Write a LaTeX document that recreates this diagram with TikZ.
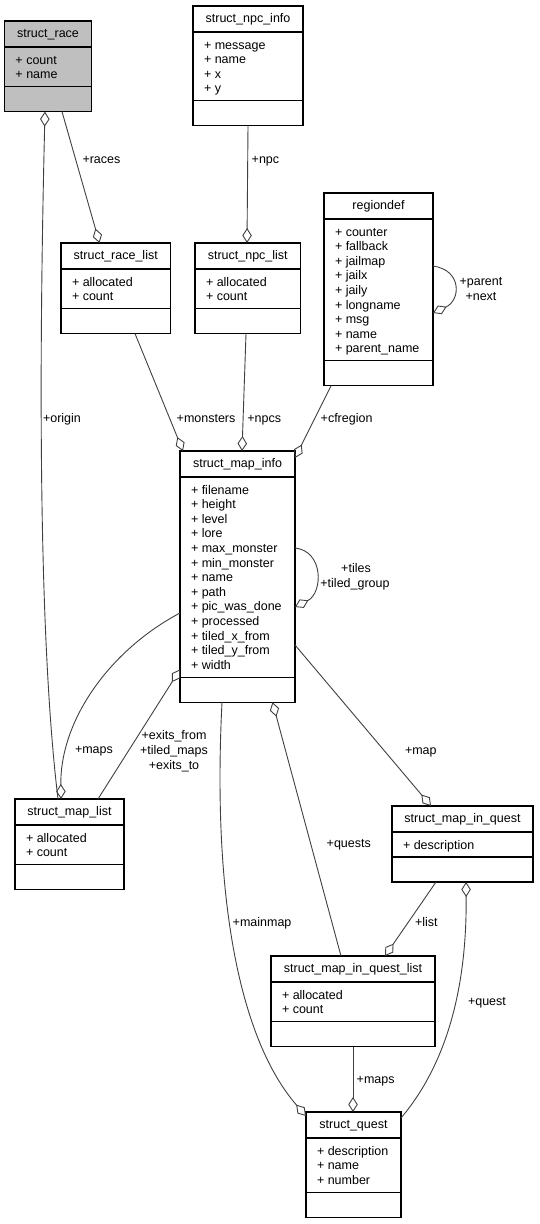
\documentclass[tikz,border=0pt]{standalone}
\usepackage{fontspec}
\setmainfont{Liberation Sans}
\usetikzlibrary{arrows.meta}
\definecolor{edgegray}{HTML}{404040}
\definecolor{racegray}{HTML}{BFBFBF}
\tikzset{
  every node/.style={font=\fontsize{12.5}{14.6}\selectfont, inner sep=0pt, outer sep=0pt},
  clsbox/.style={draw=black, line width=1.1pt},
  clssep/.style={draw=black, line width=1.1pt},
  attr/.style={anchor=base west},
  ttl/.style={anchor=base},
  lbl/.style={anchor=base west},
  lblc/.style={anchor=base},
  conn/.style={draw=edgegray, line width=0.9pt},
  agg/.style={-{Diamond[open, length=15pt, width=9.5pt]}},
  aggstart/.style={{Diamond[open, length=15pt, width=9.5pt]}-},
}
\newcommand\UmlBox[8][white]{%
  \pgfmathsetmacro\UmlH{61.4+14.6*#6}%
  \node[clsbox, fill=#1, minimum width=#5pt, minimum height=\UmlH pt, anchor=north west] (#2) at (#3,#4) {};
  \draw[clssep] ([yshift=-26pt]#2.north west) -- ([yshift=-26pt]#2.north east);
  \draw[clssep] ([yshift=25pt]#2.south west) -- ([yshift=25pt]#2.south east);
  \node[ttl] (#2-title) at ([yshift=-16.5pt]#2.north) {#7};
  \foreach \a [count=\i] in {#8} {\node[attr] (#2-a\i) at ([xshift=11pt,yshift={-43pt-(\i-1)*14.6pt}]#2.north west) {+ \a};}
}
\begin{document}
\begin{tikzpicture}[x=1pt, y=-1pt]
\useasboundingbox (0,0) rectangle (539,1224);

\UmlBox[racegray]{race}{4.5}{21}{87}{2}{struct\_race}{count,name}
\UmlBox{npcinfo}{193}{6}{110}{4}{struct\_npc\_info}{message,name,x,y}
\UmlBox{regiondef}{324}{193}{109}{9}{regiondef}{counter,fallback,jailmap,jailx,jaily,longname,msg,name,parent\_name}
\UmlBox{racelist}{61}{243}{109.5}{2}{struct\_race\_list}{allocated,count}
\UmlBox{npclist}{195}{243}{105.5}{2}{struct\_npc\_list}{allocated,count}
\UmlBox{mapinfo}{180}{451}{115}{13}{struct\_map\_info}{filename,height,level,lore,max\_monster,min\_monster,name,path,pic\_was\_done,processed,tiled\_x\_from,tiled\_y\_from,width}
\UmlBox{maplist}{15}{799}{109}{2}{struct\_map\_list}{allocated,count}
\UmlBox{miq}{392}{806}{141}{1}{struct\_map\_in\_quest}{description}
\UmlBox{miql}{271}{956}{164}{2}{struct\_map\_in\_quest\_list}{allocated,count}
\UmlBox{quest}{306}{1112}{95}{3}{struct\_quest}{description,name,number}

% connectors
\draw[conn, aggstart] ([xshift=40.5pt]race.south west) .. controls (38,400) and (40,650) .. ([xshift=43pt]maplist.north west);
\draw[conn, agg] ([xshift=57.5pt]race.south west) -- ([xshift=38.5pt]racelist.north west);
\draw[conn, agg] ([xshift=55pt]npcinfo.south west) -- ([xshift=52pt]npclist.north west);
\draw[conn, agg] ([yshift=-73pt]regiondef.north east) .. controls +(29,4) and +(28,-13) .. ([yshift=-120pt]regiondef.north east);
\draw[conn, agg] ([xshift=74pt]racelist.south west) -- ([xshift=3pt]mapinfo.north west);
\draw[conn, agg] ([xshift=51pt]npclist.south west) -- ([xshift=62pt]mapinfo.north west);
\draw[conn, agg] ([xshift=7pt]regiondef.south west) -- ([yshift=-7pt]mapinfo.north east);
\draw[conn, agg] ([yshift=-97pt]mapinfo.north east) .. controls +(29,3) and +(28,-14) .. ([yshift=-156pt]mapinfo.north east);
\draw[conn, agg] ([yshift=-162pt]mapinfo.north west) .. controls (110,650) and (60,720) .. ([xshift=46pt]maplist.north west);
\draw[conn, agg] ([xshift=83pt]maplist.north west) -- ([yshift=-218.4pt]mapinfo.north west);
\draw[conn, agg] ([xshift=42pt]mapinfo.south west) .. controls (212,900) and (240,1040) .. ([yshift=-4pt]quest.north west);
\draw[conn, agg] ([xshift=70pt]miql.north west) -- ([xshift=92.5pt]mapinfo.south west);
\draw[conn, agg] ([yshift=-194pt]mapinfo.north east) -- ([xshift=39pt]miq.north west);
\draw[conn, agg] ([xshift=44pt]miq.south west) -- ([xshift=114pt]miql.north west);
\draw[conn, aggstart] ([xshift=74pt]miq.south west) .. controls (467,980) and (450,1060) .. ([yshift=-6pt]quest.north east);
\draw[conn, agg] ([xshift=82pt]miql.south west) -- ([xshift=47pt]quest.north west);

% labels
\node[lbl] (l-origin) at (43,422) {+origin};
\node[lbl] (l-races) at (82.5,163.5) {+races};
\node[lbl] (l-npc) at (251.7,163.5) {+npc};
\node[lbl] (l-monsters) at (176.7,422) {+monsters};
\node[lbl] (l-npcs) at (247.3,422) {+npcs};
\node[lbl] (l-cfregion) at (320.7,422) {+cfregion};
\node[lblc] (l-parent) at (481,285) {+parent};
\node[lblc] (l-next) at (481,300) {+next};
\node[lblc] (l-tiles) at (356,572) {+tiles};
\node[lblc] (l-tiledgroup) at (355,587) {+tiled\_group};
\node[lbl] (l-maps1) at (75,753) {+maps};
\node[lblc] (l-exitsfrom) at (174,739) {+exits\_from};
\node[lblc] (l-tiledmaps) at (174,754) {+tiled\_maps};
\node[lblc] (l-exitsto) at (174,769) {+exits\_to};
\node[lbl] (l-map) at (405,754) {+map};
\node[lbl] (l-quests) at (326.7,847) {+quests};
\node[lbl] (l-mainmap) at (232.7,926.5) {+mainmap};
\node[lbl] (l-list) at (415,926.5) {+list};
\node[lbl] (l-quest) at (468,1005) {+quest};
\node[lbl] (l-maps2) at (356.7,1083) {+maps};
\end{tikzpicture}
\end{document}
